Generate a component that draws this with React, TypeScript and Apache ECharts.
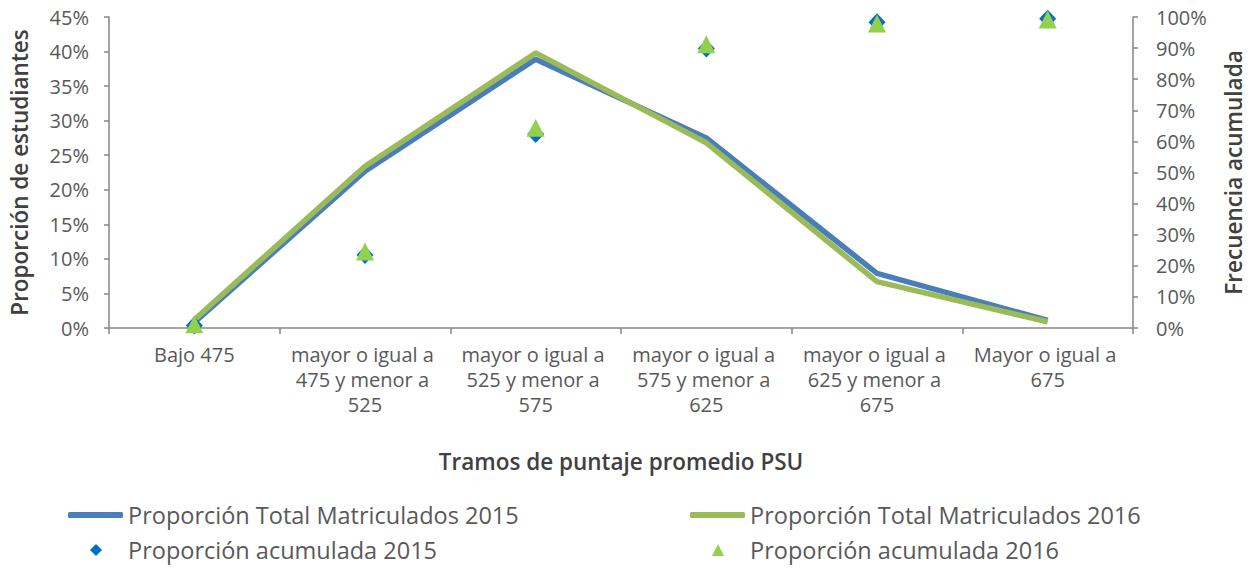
import React, { useEffect, useRef } from "react";
import * as echarts from "echarts";

const categories = [
  "Bajo 475",
  "mayor o igual a 475 y menor a 525",
  "mayor o igual a 525 y menor a 575",
  "mayor o igual a 575 y menor a 625",
  "mayor o igual a 625 y menor a 675",
  "Mayor o igual a 675",
];
const total2015 = [0.8, 22.7, 38.9, 27.5, 7.9, 1.1];
const total2016 = [1.2, 23.4, 39.8, 26.8, 6.7, 0.9];
const acum2015 = [0.8, 23.5, 62.4, 89.9, 98.3, 99.4];
const acum2016 = [1.2, 24.6, 64.4, 91.2, 97.9, 99.2];
const leftTicks = { min: 0, max: 45, interval: 5 };
const rightTicks = { min: 0, max: 100, interval: 10 };

const FONT = "Open Sans";
const GRAY = "#595959";
const AXIS = "#868686";

export default function App() {
  const ref = useRef<HTMLDivElement>(null);
  useEffect(() => {
    const chart = echarts.init(ref.current!, null, { renderer: "svg" });
    const mkLegend = (
      name: string,
      icon: string,
      left: number,
      top: number,
      w: number,
      h: number,
      padLeft: number
    ) => ({
      data: [{ name, icon }],
      left,
      top,
      orient: "horizontal",
      itemWidth: w,
      itemHeight: h,
      padding: 0,
      itemStyle: { opacity: 1 },
      textStyle: { fontFamily: FONT, fontSize: 23.5, color: GRAY, padding: [0, 0, 0, padLeft] },
      selectedMode: false,
    });
    chart.setOption({
      animation: false,
      textStyle: { fontFamily: FONT },
      grid: { left: 104, right: 117, top: 17, bottom: 241, containLabel: false },
      legend: [
        mkLegend("Proporción Total Matriculados 2015", "roundRect", 68, 503, 55, 6, 0),
        mkLegend("Proporción Total Matriculados 2016", "roundRect", 690, 503, 55, 6, 0),
        mkLegend("Proporción acumulada 2015", "diamond", 90, 538, 12, 12, 21),
        mkLegend("Proporción acumulada 2016", "triangle", 712, 538, 12, 12, 21),
      ],
      xAxis: {
        type: "category",
        data: categories,
        boundaryGap: true,
        name: "Tramos de puntaje promedio PSU",
        nameLocation: "middle",
        nameGap: 122,
        nameTextStyle: { fontFamily: FONT, fontSize: 22.5, fontWeight: 600, color: "#404040" },
        axisLine: { show: true, lineStyle: { color: AXIS, width: 1.5 } },
        axisTick: { show: true, length: 6, lineStyle: { color: AXIS, width: 1.5 } },
        axisLabel: {
          fontFamily: FONT,
          fontSize: 20,
          color: GRAY,
          margin: 14,
          lineHeight: 25,
          width: 162,
          overflow: "break",
          interval: 0,
        },
      },
      yAxis: [
        {
          type: "value",
          ...leftTicks,
          name: "Proporción de estudiantes",
          nameLocation: "middle",
          nameGap: 78,
          nameTextStyle: { fontFamily: FONT, fontSize: 22.5, fontWeight: 600, color: "#404040" },
          axisLine: { show: true, lineStyle: { color: AXIS, width: 1.5 } },
          axisTick: { show: true, length: 5, lineStyle: { color: AXIS, width: 1.5 } },
          splitLine: { show: false },
          axisLabel: { fontFamily: FONT, fontSize: 20, color: GRAY, margin: 20, formatter: "{value}%" },
        },
        {
          type: "value",
          ...rightTicks,
          position: "right",
          name: "Frecuencia acumulada",
          nameLocation: "middle",
          nameGap: 89,
          nameRotate: 90,
          nameTextStyle: { fontFamily: FONT, fontSize: 22.5, fontWeight: 600, color: "#404040" },
          axisLine: { show: true, lineStyle: { color: AXIS, width: 1.5 } },
          axisTick: { show: true, length: 5, lineStyle: { color: AXIS, width: 1.5 } },
          splitLine: { show: false },
          axisLabel: { fontFamily: FONT, fontSize: 20, color: GRAY, margin: 23, formatter: "{value}%" },
        },
      ],
      series: [
        {
          name: "Proporción Total Matriculados 2015",
          type: "line",
          yAxisIndex: 0,
          data: total2015,
          symbol: "none",
          color: "#4A7EBB",
          lineStyle: { color: "#4A7EBB", width: 5.5 },
          z: 2,
        },
        {
          name: "Proporción Total Matriculados 2016",
          type: "line",
          yAxisIndex: 0,
          data: total2016,
          symbol: "none",
          color: "#9BBB59",
          lineStyle: { color: "#9BBB59", width: 5.5 },
          z: 3,
        },
        {
          name: "Proporción acumulada 2015",
          type: "scatter",
          yAxisIndex: 1,
          data: acum2015,
          symbol: "diamond",
          symbolSize: [17, 18],
          itemStyle: { color: "#0070C0", opacity: 1 },
          z: 4,
        },
        {
          name: "Proporción acumulada 2016",
          type: "scatter",
          yAxisIndex: 1,
          data: acum2016,
          symbol: "triangle",
          symbolSize: [18, 18],
          itemStyle: { color: "#92D050", opacity: 1 },
          z: 5,
        },
      ],
    });
    return () => chart.dispose();
  }, []);
  return <div ref={ref} style={{ width: 1253, height: 569, position: "absolute", left: 0, top: 0 }} />;
}
